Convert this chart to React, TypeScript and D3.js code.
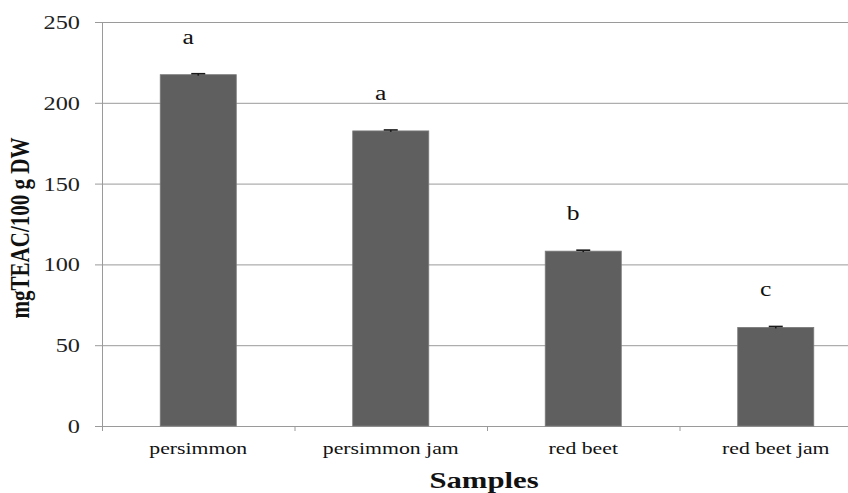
import React from "react";
import * as d3 from "d3";

const categories = ["persimmon", "persimmon jam", "red beet", "red beet jam"];
const values = [217.4, 182.6, 108.2, 61.0];
const errors = [0.6, 0.6, 0.6, 0.6];
const letters = ["a", "a", "b", "c"];
const yTicks = [0, 50, 100, 150, 200, 250];

const W = 848;
const H = 493;
// text in the reference looks stretched sideways
const SX = 1.28;
const FONT = "'Liberation Serif', 'Times New Roman', serif";

export default function App() {
  const y = d3.scaleLinear().domain([0, 250]).range([426, 22]);
  const x = d3
    .scaleBand<string>()
    .domain(categories)
    .range([102, 872])
    .paddingInner(0.605)
    .paddingOuter(0.3025);
  const step = x.step();
  const left = x.range()[0];
  const capW = 14;

  return (
    <svg
      width={W}
      height={H}
      style={{ position: "absolute", left: 0, top: 0, background: "#fff" }}
      fontFamily={FONT}
    >
      {/* grid lines */}
      {yTicks.map((t) => (
        <line
          key={"g" + t}
          x1={95}
          x2={W}
          y1={y(t) + 0.5}
          y2={y(t) + 0.5}
          stroke="#9a9a9a"
          strokeWidth={1}
        />
      ))}
      {/* y axis */}
      <line x1={102.5} x2={102.5} y1={y(250)} y2={y(0) + 5} stroke="#9a9a9a" />
      {/* x ticks at band edges */}
      {categories.map((c, i) => (
        <line
          key={"xt" + c}
          x1={left + i * step + 0.5}
          x2={left + i * step + 0.5}
          y1={y(0)}
          y2={y(0) + 5}
          stroke="#9a9a9a"
        />
      ))}
      {/* y tick labels */}
      {yTicks.map((t) => (
        <text
          key={"yl" + t}
          transform={`translate(80,${y(t) + 7}) scale(${SX},1)`}
          textAnchor="end"
          fontSize={19}
          fill="#222"
        >
          {t}
        </text>
      ))}
      {/* bars */}
      {categories.map((c, i) => (
        <rect
          key={"b" + c}
          x={x(c)}
          y={y(values[i])}
          width={x.bandwidth()}
          height={y(0) - y(values[i])}
          fill="#5f5f5f"
          stroke="#7a7a7a"
          strokeWidth={0.8}
        />
      ))}
      {/* error bars */}
      {categories.map((c, i) => {
        const cx = (x(c) as number) + x.bandwidth() / 2;
        return (
          <g key={"e" + c} stroke="#1a1a1a" strokeWidth={1.6}>
            <line x1={cx} x2={cx} y1={y(values[i] + errors[i])} y2={y(values[i] - errors[i])} />
            <line
              x1={cx - capW / 2}
              x2={cx + capW / 2}
              y1={y(values[i] + errors[i])}
              y2={y(values[i] + errors[i])}
            />
          </g>
        );
      })}
      {/* significance letters */}
      {categories.map((c, i) => (
        <text
          key={"l" + c}
          transform={`translate(${(x(c) as number) + x.bandwidth() / 2 - 10},${y(values[i]) - 31}) scale(${SX},1)`}
          textAnchor="middle"
          fontSize={20}
          fill="#111"
        >
          {letters[i]}
        </text>
      ))}
      {/* x labels */}
      {categories.map((c) => (
        <text
          key={"xl" + c}
          transform={`translate(${(x(c) as number) + x.bandwidth() / 2},454) scale(${SX},1)`}
          textAnchor="middle"
          fontSize={17}
          fill="#111"
        >
          {c}
        </text>
      ))}
      {/* axis titles */}
      <text
        transform={`translate(484,488) scale(${SX},1)`}
        textAnchor="middle"
        fontSize={24}
        fontWeight="bold"
        fill="#111"
      >
        Samples
      </text>
      <text
        transform={`translate(29,228) scale(${SX},1) rotate(-90)`}
        textAnchor="middle"
        fontSize={21}
        fontWeight="bold"
        fill="#111"
      >
        mgTEAC/100 g DW
      </text>
    </svg>
  );
}
